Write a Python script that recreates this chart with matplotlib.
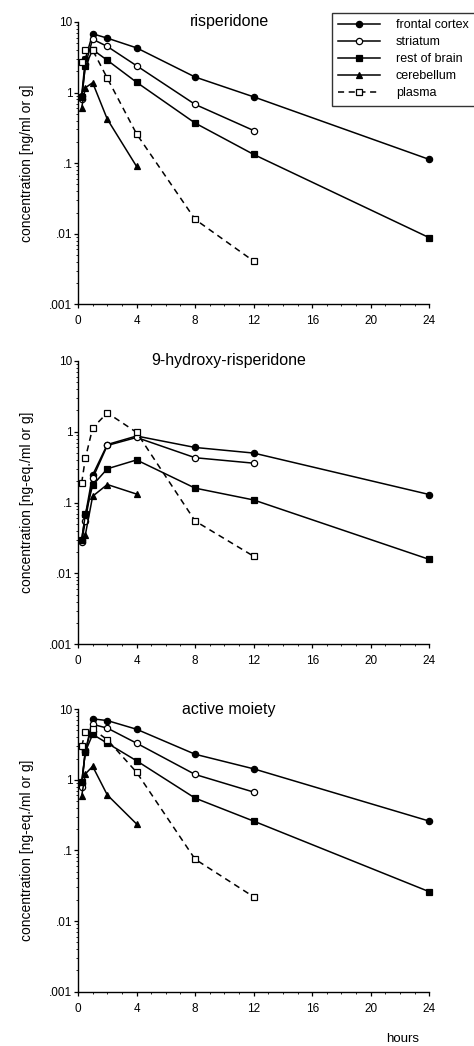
import matplotlib
matplotlib.use("Agg")
import matplotlib.pyplot as plt
import matplotlib.ticker as mticker
from matplotlib.lines import Line2D

plt.rcParams['font.family'] = ['Liberation Sans', 'DejaVu Sans']

# sampling times (hours)
t_all = [0.25, 0.5, 1, 2, 4, 8, 12, 24]
t_12 = [0.25, 0.5, 1, 2, 4, 8, 12]
t_4 = [0.25, 0.5, 1, 2, 4]

series_names = ["frontal cortex", "striatum", "rest of brain", "cerebellum", "plasma"]
panel_titles = ["risperidone", "9-hydroxy-risperidone", "active moiety"]
ylabels = ["concentration [ng/ml or g]",
           "concentration [ng-eq./ml or g]",
           "concentration [ng-eq./ml or g]"]

# risperidone
ris_frontal = [0.9, 3.0, 6.8, 5.9, 4.3, 1.66, 0.87, 0.113]
ris_striatum = [0.8, 2.5, 5.7, 4.5, 2.4, 0.68, 0.29]
ris_rest = [0.87, 2.35, 4.05, 2.87, 1.4, 0.37, 0.133, 0.0088]
ris_cereb = [0.61, 1.17, 1.38, 0.42, 0.09]
ris_plasma = [2.7, 4.06, 4.0, 1.6, 0.26, 0.016, 0.0041]

# 9-hydroxy-risperidone
oh_frontal = [0.03, 0.066, 0.245, 0.66, 0.87, 0.60, 0.50, 0.13]
oh_striatum = [0.028, 0.055, 0.22, 0.64, 0.83, 0.43, 0.36]
oh_rest = [0.030, 0.068, 0.176, 0.30, 0.40, 0.16, 0.109, 0.0158]
oh_cereb = [0.03, 0.035, 0.123, 0.18, 0.132]
oh_plasma = [0.19, 0.42, 1.13, 1.85, 0.98, 0.055, 0.0175]

# active moiety
am_frontal = [0.9, 2.5, 7.3, 6.9, 5.2, 2.3, 1.43, 0.26]
am_striatum = [0.8, 2.6, 6.1, 5.4, 3.3, 1.19, 0.67]
am_rest = [0.93, 2.5, 4.4, 3.3, 1.86, 0.55, 0.26, 0.026]
am_cereb = [0.59, 1.21, 1.55, 0.61, 0.237]
am_plasma = [3.0, 4.7, 5.2, 3.7, 1.28, 0.075, 0.022]

panels = [
    [ris_frontal, ris_striatum, ris_rest, ris_cereb, ris_plasma],
    [oh_frontal, oh_striatum, oh_rest, oh_cereb, oh_plasma],
    [am_frontal, am_striatum, am_rest, am_cereb, am_plasma],
]
times = [t_all, t_12, t_all, t_4, t_12]

styles = [
    dict(marker='o', mfc='black', ms=4.5, ls='-'),
    dict(marker='o', mfc='white', ms=4.5, ls='-'),
    dict(marker='s', mfc='black', ms=4.5, ls='-'),
    dict(marker='^', mfc='black', ms=4.5, ls='-'),
    dict(marker='s', mfc='white', ms=5, ls=(0, (4, 3))),
]

fig = plt.figure(figsize=(4.74, 10.46), dpi=100)

# [left, bottom, width, height] in figure fractions
boxes = [
    [0.1646, 0.709, 0.741, 0.270],
    [0.1646, 0.384, 0.741, 0.271],
    [0.1646, 0.052, 0.741, 0.270],
]

for k in range(3):
    ax = fig.add_axes(boxes[k])
    for vals, t, st in zip(panels[k], times, styles):
        ax.plot(t, vals, color='black', lw=1.1, marker=st['marker'],
                mfc=st['mfc'], mec='black', mew=0.9, ms=st['ms'],
                ls=st['ls'], clip_on=False, zorder=3)
    ax.set_yscale('log')
    ax.set_ylim(0.001, 10)
    ax.set_xlim(0, 24)
    ax.set_xticks([0, 4, 8, 12, 16, 20, 24])
    ax.xaxis.set_minor_locator(mticker.MultipleLocator(1))
    ax.set_yticks([0.001, 0.01, 0.1, 1, 10])
    ax.set_yticklabels(['.001', '.01', '.1', '1', '10'])
    ax.yaxis.set_minor_locator(mticker.LogLocator(base=10, subs=range(2, 10)))
    ax.yaxis.set_minor_formatter(mticker.NullFormatter())
    ax.tick_params(axis='both', which='major', direction='out', length=3,
                   width=0.9, labelsize=8.5)
    ax.tick_params(axis='both', which='minor', direction='out', length=1.5,
                   width=0.6)
    ax.tick_params(axis='y', which='major', pad=1)
    ax.tick_params(axis='x', which='major', pad=5)
    for side in ['top', 'right']:
        ax.spines[side].set_visible(False)
    for side in ['left', 'bottom']:
        ax.spines[side].set_linewidth(1.0)
    ax.set_ylabel(ylabels[k], fontsize=10, labelpad=11)
    ax.text(0.43, 1.0, panel_titles[k], transform=ax.transAxes,
            ha='center', va='center', fontsize=11.5)

# legend in the first panel's corner
handles = [Line2D([0], [0], color='black', lw=1.1, marker=st['marker'],
                  mfc=st['mfc'], mec='black', mew=0.9, ms=st['ms'], ls=st['ls'])
           for st in styles]
leg = fig.legend(handles, series_names, loc='upper left',
                 bbox_to_anchor=(332 / 474, 1 - 13 / 1046), fontsize=9,
                 frameon=True, fancybox=False, edgecolor='black',
                 handlelength=3.3, handletextpad=1.3, labelspacing=0.4,
                 borderpad=0.5, borderaxespad=0)
leg.get_frame().set_linewidth(1.0)

fig.text(403 / 474, 1 - 1039 / 1046, "hours", ha='center', va='center',
         fontsize=9.5)

fig.savefig("out.png", dpi=100)
